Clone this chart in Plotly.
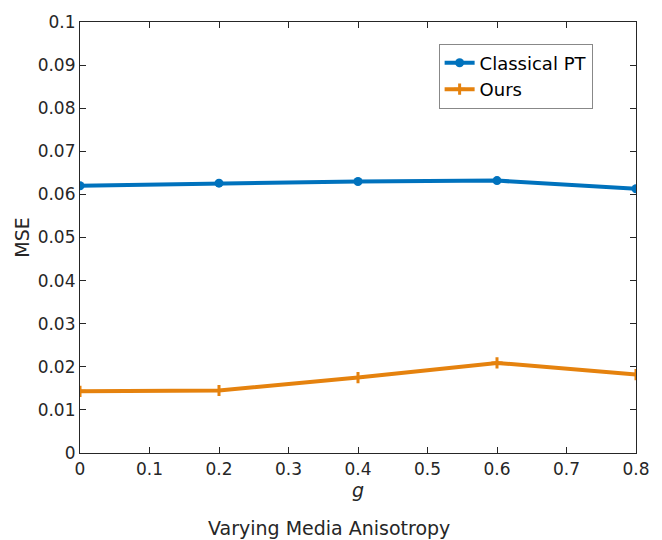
import plotly.graph_objects as go

g_values = [0, 0.2, 0.4, 0.6, 0.8]
classical_pt = [0.0620, 0.0626, 0.0630, 0.0632, 0.0613]
ours = [0.0143, 0.0145, 0.0175, 0.0209, 0.0182]

blue = "#0072BD"
orange = "#E5820E"
font_family = "DejaVu Sans"

fig = go.Figure()
fig.add_trace(go.Scatter(x=g_values, y=classical_pt, mode="lines+markers", name="Classical PT",
                         line=dict(color=blue, width=4),
                         marker=dict(symbol="circle", size=9, color=blue)))
fig.add_trace(go.Scatter(x=g_values, y=ours, mode="lines+markers", name="Ours",
                         line=dict(color=orange, width=4),
                         marker=dict(symbol="cross-thin", size=8, color=orange,
                                     line=dict(color=orange, width=3))))

axis_common = dict(showgrid=False, zeroline=False, showline=True, linecolor="#262626",
                   linewidth=1.2, mirror="ticks", ticks="inside", ticklen=6,
                   tickcolor="#262626", tickfont=dict(family=font_family, size=17, color="#262626"))

fig.update_xaxes(range=[0, 0.8], tickvals=[0, 0.1, 0.2, 0.3, 0.4, 0.5, 0.6, 0.7, 0.8],
                 ticktext=["0", "0.1", "0.2", "0.3", "0.4", "0.5", "0.6", "0.7", "0.8"],
                 title=dict(text="<i>g</i>", font=dict(family=font_family, size=19, color="#262626"),
                            standoff=6),
                 **axis_common)
fig.update_yaxes(range=[0, 0.1], tickvals=[0, 0.01, 0.02, 0.03, 0.04, 0.05, 0.06, 0.07, 0.08, 0.09, 0.1],
                 ticktext=["0", "0.01", "0.02", "0.03", "0.04", "0.05", "0.06", "0.07", "0.08", "0.09", "0.1"],
                 title=dict(text="MSE", font=dict(family=font_family, size=19, color="#262626"),
                            standoff=2),
                 **axis_common)

fig.add_annotation(text="Varying Media Anisotropy", xref="paper", yref="paper",
                   x=(331 - 80) / 561, y=0, yshift=-62, yanchor="top", showarrow=False,
                   font=dict(family=font_family, size=19, color="#262626"))

fig.update_layout(
    width=662, height=540,
    margin=dict(l=80, r=21, t=13, b=87),
    paper_bgcolor="white", plot_bgcolor="white",
    font=dict(family=font_family, color="#262626"),
    legend=dict(x=0.645, y=0.95, xanchor="left", yanchor="top",
                bgcolor="white", bordercolor="#888888", borderwidth=1,
                font=dict(family=font_family, size=18, color="#000000"),
                itemwidth=30, tracegroupgap=0),
    showlegend=True,
)

fig.write_html("out.html")
